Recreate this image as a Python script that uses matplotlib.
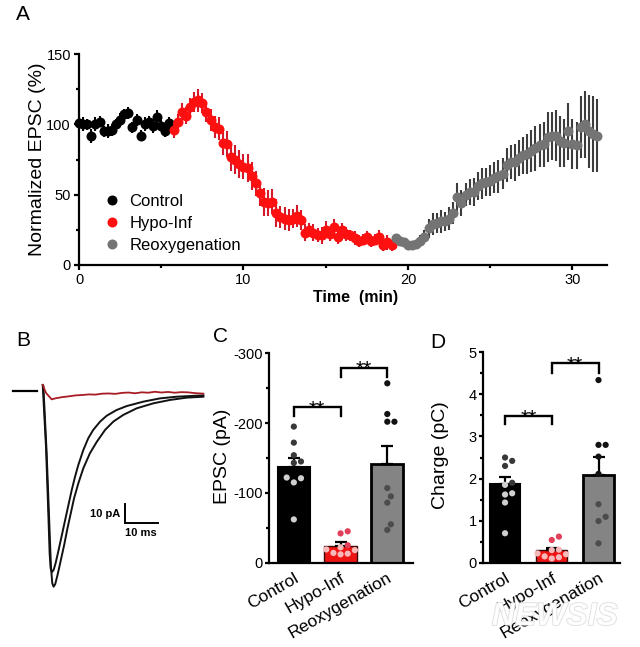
import numpy as np
import matplotlib
matplotlib.use('Agg')
import matplotlib.pyplot as plt
import matplotlib.patheffects as pe
import matplotlib.transforms as mtransforms

plt.rcParams['font.family'] = ['Liberation Sans', 'DejaVu Sans']
plt.rcParams['axes.unicode_minus'] = False

# ---------------- Panel A data (time course, 15 s bins) ----------------
bin_min = 0.25
ctrl_start = 0.0
ctrl_vals = [101, 100, 100, 92, 100, 102, 95, 95, 96, 100, 103, 107, 108, 98, 103,
             92, 100, 102, 99, 105, 99, 95, 101]
ctrl_err = [4, 5, 4, 5, 5, 4, 4, 5, 4, 4, 5, 4, 4, 4, 4, 4, 5, 4, 5, 5, 4, 4, 4]

hypo_start = 5.75
hypo_vals = [96, 102, 109, 106, 112, 116, 117, 115, 109, 103,
             98, 97, 87, 86, 77, 75, 72, 70, 69, 63,
             58, 51, 45, 44, 45, 37, 34, 33, 32, 33,
             35, 32, 23, 25, 23, 21, 21, 25, 22, 27,
             20, 25, 22, 21, 19, 17, 18, 20, 17, 18,
             20, 14, 16, 14]
hypo_err = [6, 5, 6, 6, 7, 7,
            8, 7, 7, 8, 8, 8, 9, 9,
            10, 10, 10, 9, 10, 10, 9, 9, 10, 9, 9, 10,
            8, 8, 8, 7, 8, 7, 6, 5, 6, 5, 6, 6,
            5, 6, 5, 5, 5, 4, 5, 4, 4, 4, 4, 4, 5, 4, 5, 4]

reox_start = 19.25
reox_vals = [19, 17, 16, 14, 14, 15, 17, 20, 26, 29,
             30, 31, 31, 33, 37, 48, 44, 50, 52, 52,
             56, 58, 59, 60, 62, 63, 65, 71, 73, 73,
             76, 78, 79, 81, 83, 85, 86, 91, 92, 92,
             88, 87, 95, 86, 85, 98, 100, 95, 93, 92]
reox_err = [3, 3, 3, 3, 3, 3, 4, 5,
            7, 8, 7, 8, 7, 8, 8, 10,
            9, 8, 9, 10, 10, 11, 10, 11,
            11, 12, 11, 12, 12, 13, 13, 13,
            14, 15, 16, 15, 16, 18, 17, 18,
            18, 17, 20, 18, 17, 22, 24, 26, 27, 26]

series_names = ['Control', 'Hypo-Inf', 'Reoxygenation']

# ---------------- Panel B data (example traces, ms / pA) ----------------
trace1_t = [0.0, 1.0, 1.7, 2.1, 2.4, 2.8, 3.3, 3.9, 4.7, 5.7, 6.8, 7.8, 8.8, 9.8, 10.8,
            12.3, 13.8, 15.3, 17.4, 19.4, 22.4, 25.5, 30.5, 35.5, 40.6, 48.7]
trace1_i = [3.2, -29.3, -64.4, -85.4, -93.3, -95.3, -94.2, -90.7, -84.6, -76.7, -67.9, -60.0,
            -52.1, -45.1, -38.9, -31.1, -24.9, -20.5, -16.1, -13.0, -10.0, -7.9, -5.6, -3.9,
            -3.0, -2.3]
trace2_t = [0.2, 1.2, 2.0, 2.5, 2.9, 3.3, 3.8, 4.5, 5.4, 6.5, 7.5, 8.5, 9.5, 10.8, 12.3,
            14.3, 16.4, 18.9, 21.4, 24.4, 28.5, 33.5, 38.6, 43.6, 48.7]
trace2_i = [2.6, -32.8, -69.6, -92.5, -101.2, -103.0, -101.6, -96.8, -89.8, -81.1, -72.3,
            -64.4, -56.5, -48.6, -40.7, -32.8, -26.7, -20.5, -16.1, -12.6, -9.1, -6.5, -4.7,
            -3.5, -3.0]
trace3_t = [0, 1, 2.7, 4, 6, 8, 10, 12, 14, 16, 18, 20, 22, 24, 26, 28, 30, 32, 34, 36, 38,
            40, 42, 44, 46, 48.7]
trace3_i = [3.2, -1, -4.4, -3.8, -3.2, -2.8, -2.3, -2.1, -1.8, -1.9, -1.4, -1.3, -1.5, -1.0,
            -0.8, -1.2, -0.7, -0.9, -0.4, -0.8, -0.5, -0.9, -0.6, -0.7, -1.1, -1.4]
base_t = [-8.9, -1.8]
base_i = [0.0, 0.0]

# ---------------- Panel C / D data ----------------
categories = ['Control', 'Hypo-Inf', 'Reoxygenation']
epsc_mean = [-137.5, -24.4, -141.0]
epsc_sem = [12.0, 4.8, 26.0]
epsc_pts = [[-195, -172, -154, -145, -143, -121, -115, -122, -62],
            [-45, -42, -25, -22, -19, -18, -14, -13, -12],
            [-257, -213, -202, -202, -107, -95, -86, -55, -47]]
epsc_sig = [(0, 1, -222.5, -210.6), (1, 2, -279.4, -266.5)]

charge_mean = [1.86, 0.31, 2.08]
charge_sem = [0.17, 0.05, 0.44]
charge_pts = [[2.50, 2.42, 2.30, 1.90, 1.85, 1.65, 1.62, 1.43, 0.70],
              [0.62, 0.54, 0.30, 0.31, 0.22, 0.13, 0.15, 0.20, 0.10],
              [4.34, 2.80, 2.80, 2.52, 2.11, 1.39, 1.09, 0.99, 0.46]]
charge_sig = [(0, 1, 3.48, 3.29), (1, 2, 4.74, 4.51)]

# ---------------- styles ----------------
W, H = 640, 647
fig = plt.figure(figsize=(W / 100, H / 100), dpi=100)


def rect(l, r, t, b):
    return [l / W, 1 - b / H, (r - l) / W, (b - t) / H]


SPINE = 1.6
mark_col = ['black', '#ff1010', '#747474']
err_col = ['black', '#d41a2a', '#3c3c3c']

# ---------------- Panel A ----------------
axA = fig.add_axes(rect(79, 607, 54, 265))
groups = [(ctrl_start, ctrl_vals, ctrl_err),
          (hypo_start, hypo_vals, hypo_err),
          (reox_start, reox_vals, reox_err)]
for k, (t0, v, e) in enumerate(groups):
    t = t0 + bin_min * np.arange(len(v))
    axA.errorbar(t, v, yerr=e, fmt='none', ecolor=err_col[k], elinewidth=1.5,
                 capsize=0, zorder=2 + k, clip_on=False)
    axA.plot(t, v, 'o', color=mark_col[k], markersize=7.2, markeredgewidth=0,
             zorder=3 + k, clip_on=False, label=series_names[k])
axA.set_xlim(0, 32.1)
axA.set_ylim(0, 150)
axA.set_xticks([0, 10, 20, 30])
axA.set_xticks([5, 15, 25], minor=True)
axA.set_yticks([0, 50, 100, 150])
axA.set_yticks([25, 75, 125], minor=True)
for s in ['top', 'right']:
    axA.spines[s].set_visible(False)
for s in ['left', 'bottom']:
    axA.spines[s].set_linewidth(SPINE)
axA.tick_params(which='major', length=3.3, width=SPINE, labelsize=10.5, pad=2.5)
axA.tick_params(which='minor', length=2.3, width=SPINE)
axA.set_ylabel('Normalized EPSC (%)', fontsize=14)
axA.yaxis.set_label_coords(-0.062, 0.5)
axA.set_xlabel('Time  (min)', fontsize=11.5, fontweight='bold')
axA.xaxis.set_label_coords(0.523, -0.118)
leg = axA.legend(loc='lower left', bbox_to_anchor=(0.018, -0.015), frameon=False,
                 fontsize=12, handletextpad=0.55, labelspacing=0.42, handlelength=1.0,
                 markerscale=1.0)

# ---------------- Panel B ----------------
axB = fig.add_axes(rect(10, 215, 380, 600))
axB.set_xlim((10 - 42.7) / 3.3, (215 - 42.7) / 3.3)
axB.set_ylim(-(600 - 391) / 1.9, (391 - 380) / 1.9)
axB.axis('off')
axB.plot(base_t, base_i, color='black', lw=1.6)
axB.plot(trace2_t, trace2_i, color='#111111', lw=1.4)
axB.plot(trace1_t, trace1_i, color='#111111', lw=1.4)
axB.plot(trace3_t, trace3_i, color='#a81c24', lw=1.3)
# scale bar: 10 pA / 10 ms
sb_x, sb_y = 24.9, -69.5
axB.plot([sb_x, sb_x, sb_x + 10], [sb_y + 10, sb_y, sb_y], color='black', lw=1.4,
         solid_joinstyle='miter')
axB.text(sb_x - 1.3, sb_y + 5, '10 pA', ha='right', va='center', fontsize=8, fontweight='bold')
axB.text(sb_x + 5, sb_y - 5.3, '10 ms', ha='center', va='center', fontsize=8, fontweight='bold')


# ---------------- Panels C & D ----------------
def swarm_x(ax, xc, vals, r_px):
    pts = ax.transData.transform(np.column_stack([np.full(len(vals), xc), vals]))
    ys = pts[:, 1]
    order = np.argsort(ys)
    placed = []
    offs = np.zeros(len(vals))
    for i in order:
        y = ys[i]
        cand_list = [0.0]
        for k in range(1, 12):
            cand_list += [k * r_px * 1.05, -k * r_px * 1.05]
        for cand in cand_list:
            if all((cand - px) ** 2 + (y - py) ** 2 >= (1.9 * r_px) ** 2 for px, py in placed):
                break
        offs[i] = cand
        placed.append((cand, y))
    x0 = ax.transData.transform((xc, 0))[0]
    x1 = ax.transData.transform((xc + 1, 0))[0]
    return xc + offs / (x1 - x0)


bar_face = ['black', '#ee1414', '#848484']
bar_edge = ['black', '#3a0a0a', 'black']
bar_lw = [1.5, 1.0, 2.0]
pt_out = ['#383838', '#e0405a', '#121212']
pt_in = ['#cfcfcf', '#f6b8b8', '#4c4c4c']


def bar_panel(ax, means, sems, pts, sigs, negative, ylim, yticks, yminor, ylabel, lab_x, bw):
    ax.set_xlim(*ylim[0])
    ax.set_ylim(*ylim[1])
    x = np.arange(len(categories))
    ax.bar(x, means, width=bw, color=bar_face, edgecolor=bar_edge, linewidth=bar_lw, zorder=2)
    for i in range(len(categories)):
        if negative:
            yerr = [[sems[i]], [0]]
        else:
            yerr = [[0], [sems[i]]]
        ax.errorbar([x[i]], [means[i]], yerr=yerr, fmt='none', ecolor='black',
                    elinewidth=1.6, capsize=4.5, capthick=1.6, zorder=3)
        xs = swarm_x(ax, x[i], pts[i], 3.4)
        cols = [pt_out[i] if abs(v) > abs(means[i]) else pt_in[i] for v in pts[i]]
        ax.scatter(xs, pts[i], s=20, c=cols, linewidths=0, zorder=4, clip_on=False)
    for (a, b, yb, yl) in sigs:
        ax.plot([a, a, b, b], [yl, yb, yb, yl], color='black', lw=1.7,
                solid_joinstyle='miter', zorder=5)
        ax.annotate('**', xy=((a + b) / 2, yb), xytext=(0, -5.2), textcoords='offset points',
                    ha='center', va='baseline', fontsize=15)
    ax.set_yticks(yticks)
    ax.set_yticks(yminor, minor=True)
    ax.set_xticks(x)
    ax.set_xticklabels(categories, rotation=30, ha='right', rotation_mode='anchor', fontsize=12.5)
    offset = mtransforms.ScaledTranslation(3.5 / 72, 0, fig.dpi_scale_trans)
    for lbl in ax.get_xticklabels():
        lbl.set_transform(lbl.get_transform() + offset)
    for s in ['top', 'right']:
        ax.spines[s].set_visible(False)
    for s in ['left', 'bottom']:
        ax.spines[s].set_linewidth(SPINE)
    ax.tick_params(axis='x', length=0, pad=5.5)
    ax.tick_params(axis='y', which='major', length=3.2, width=SPINE, labelsize=10.5, pad=1.5)
    ax.tick_params(axis='y', which='minor', length=2.2, width=SPINE)
    ax.set_ylabel(ylabel, fontsize=14)
    ax.yaxis.set_label_coords(lab_x, 0.51)


axC = fig.add_axes(rect(269.3, 413, 353.3, 562.7))
bar_panel(axC, epsc_mean, epsc_sem, epsc_pts, epsc_sig, True,
          ((-0.525, 2.55), (0, -300)), [-300, -200, -100, 0], [-250, -150, -50],
          'EPSC (pA)', -0.265, 0.69)

axD = fig.add_axes(rect(483.3, 620, 352.3, 562.7))
bar_panel(axD, charge_mean, charge_sem, charge_pts, charge_sig, False,
          ((-0.465, 2.46), (0, 5)), [0, 1, 2, 3, 4, 5], [0.5, 1.5, 2.5, 3.5, 4.5],
          'Charge (pC)', -0.25, 0.66)

# ---------------- panel letters ----------------
for letter, (px, py) in zip('ABCD', [(23, 15), (23, 341), (221, 336), (438, 342)]):
    fig.text(px / W, 1 - py / H, letter, ha='center', va='center', fontsize=15)

# watermark
wm = fig.text(555 / W, 1 - 617 / H, 'NEWSIS', ha='center', va='center', fontsize=23,
              fontweight='bold', fontstyle='italic', color='white', alpha=0.85, zorder=10)
wm.set_path_effects([pe.withStroke(linewidth=1.0, foreground='#d4d4d4')])

fig.savefig('out.png', dpi=100)
